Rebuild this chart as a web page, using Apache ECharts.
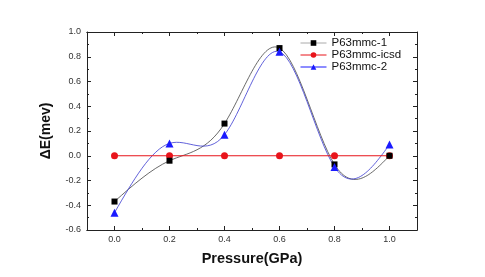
<!DOCTYPE html>
<html><head><meta charset="utf-8">
<script src="https://cdn.jsdelivr.net/npm/echarts@6/dist/echarts.min.js"></script>
<style>html,body{margin:0;padding:0;background:#fff}#c{width:485px;height:277px}</style>
</head><body><div id="c"></div>
<script>
const pressure = [0.0, 0.2, 0.4, 0.6, 0.8, 1.0];
const p63mmc1 = [-0.37, -0.04, 0.26, 0.87, -0.07, 0.0];
const p63mmcIcsd = [0, 0, 0, 0, 0, 0];
const p63mmc2 = [-0.46, 0.10, 0.17, 0.84, -0.09, 0.09];
const xMajor = [0.0, 0.2, 0.4, 0.6, 0.8, 1.0];
const xMinor = [0.1, 0.3, 0.5, 0.7, 0.9];
const names = ['P63mmc-1', 'P63mmc-icsd', 'P63mmc-2'];

const chart = echarts.init(document.getElementById('c'));
const pair = arr => pressure.map((x, i) => [x, arr[i]]);
const font = 'Liberation Sans, Arial, sans-serif';
const axLine = {show: true, onZero: false, lineStyle: {color: '#222', width: 1}};

// Natural cubic spline drawn as bezier segments (line style, like Origin's "Spline" connection)
function splinePath(xs, ys, api) {
  const n = xs.length, h = xs[1] - xs[0];
  const M = new Array(n).fill(0);
  const a = [], b = [], c = [], d = [];
  for (let i = 1; i < n - 1; i++) {
    a.push(1); b.push(4); c.push(1);
    d.push(6 / (h * h) * (ys[i + 1] - 2 * ys[i] + ys[i - 1]));
  }
  const m = d.length;
  for (let i = 1; i < m; i++) {
    const w = a[i] / b[i - 1];
    b[i] -= w * c[i - 1]; d[i] -= w * d[i - 1];
  }
  const sol = new Array(m);
  sol[m - 1] = d[m - 1] / b[m - 1];
  for (let i = m - 2; i >= 0; i--) sol[i] = (d[i] - c[i] * sol[i + 1]) / b[i];
  for (let i = 0; i < m; i++) M[i + 1] = sol[i];
  const p0 = api.coord([xs[0], ys[0]]);
  let path = 'M' + p0[0] + ' ' + p0[1];
  for (let i = 0; i < n - 1; i++) {
    const sl = (ys[i + 1] - ys[i]) / h;
    const s0 = sl - h * (2 * M[i] + M[i + 1]) / 6;
    const s1 = sl + h * (M[i] + 2 * M[i + 1]) / 6;
    const c1 = api.coord([xs[i] + h / 3, ys[i] + s0 * h / 3]);
    const c2 = api.coord([xs[i + 1] - h / 3, ys[i + 1] - s1 * h / 3]);
    const e = api.coord([xs[i + 1], ys[i + 1]]);
    path += ' C' + c1[0] + ' ' + c1[1] + ' ' + c2[0] + ' ' + c2[1] + ' ' + e[0] + ' ' + e[1];
  }
  return path;
}
function splineSeries(ys, color) {
  return {
    type: 'custom', data: [[pressure[0], ys[0]]], z: 1, silent: true,
    renderItem: (params, api) => ({
      type: 'path',
      shape: {pathData: splinePath(pressure, ys, api)},
      style: {fill: 'none', stroke: color, lineWidth: 0.8}
    })
  };
}
function xAx(pos, vals, len, labels) {
  return {
    type: 'value', position: pos, min: -0.1, max: 1.1,
    axisLine: axLine, splitLine: {show: false},
    axisTick: {show: true, inside: true, length: len, customValues: vals, lineStyle: {color: '#222'}},
    axisLabel: labels ? {show: true, customValues: vals, formatter: v => v.toFixed(1), fontSize: 9, color: '#333', fontFamily: font, margin: 5} : {show: false},
    name: (labels ? 'Pressure(GPa)' : ''), nameLocation: 'middle', nameGap: 21,
    nameTextStyle: {fontSize: 14.5, fontWeight: 'bold', color: '#111', fontFamily: font}
  };
}
function yAx(pos, labels) {
  return {
    type: 'value', position: pos, min: -0.6, max: 1.0, interval: 0.2,
    axisLine: axLine, splitLine: {show: false},
    axisTick: {show: true, inside: true, length: 4, lineStyle: {color: '#222'}},
    minorTick: {show: true, splitNumber: 2, length: 2, lineStyle: {color: '#222'}},
    axisLabel: labels ? {show: true, formatter: v => v.toFixed(1), fontSize: 9, color: '#333', fontFamily: font, margin: 6} : {show: false},
    name: labels ? 'ΔE(mev)' : '', nameLocation: 'middle', nameGap: 34,
    nameTextStyle: {fontSize: 14, fontWeight: 'bold', color: '#111', fontFamily: font}
  };
}
chart.setOption({
  animation: false,
  backgroundColor: '#fff',
  grid: {left: 87, right: 68, top: 32, bottom: 47},
  xAxis: [xAx('bottom', xMajor, 4, true), xAx('bottom', xMinor, 2, false), xAx('top', xMajor, 4, false), xAx('top', xMinor, 2, false)],
  yAxis: [yAx('left', true), yAx('right', false)],
  legend: {
    orient: 'vertical', left: 295, top: 32, itemGap: 0, itemWidth: 26, itemHeight: 7,
    textStyle: {fontSize: 11.5, lineHeight: 11.5, color: '#111', fontFamily: font},
    data: [
      {name: names[0], lineStyle: {opacity: 1, color: '#aaa', width: 1}},
      {name: names[1], lineStyle: {opacity: 1, color: '#e8141b', width: 1}},
      {name: names[2], lineStyle: {opacity: 1, color: '#1a1aff', width: 1}}
    ]
  },
  series: [
    {name: names[0], type: 'line', data: pair(p63mmc1), symbol: 'rect', symbolSize: 6, z: 3,
     itemStyle: {color: '#000'}, lineStyle: {opacity: 0}},
    {name: names[1], type: 'line', data: pair(p63mmcIcsd), symbol: 'circle', symbolSize: 7, z: 2,
     itemStyle: {color: '#e8141b'}, lineStyle: {color: '#e8141b', width: 1.2}},
    {name: names[2], type: 'line', data: pair(p63mmc2), symbol: 'triangle', symbolSize: 8, z: 3,
     itemStyle: {color: '#1a1aff'}, lineStyle: {opacity: 0}},
    splineSeries(p63mmc1, '#444'),
    splineSeries(p63mmc2, '#3a3ad0')
  ]
});
</script></body></html>
